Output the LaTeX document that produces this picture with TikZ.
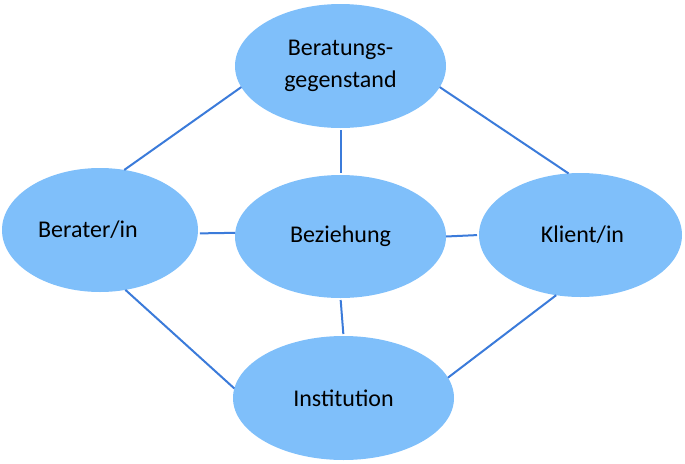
\documentclass[tikz,border=0pt]{standalone}
\usepackage{fontspec}
\setmainfont{Carlito}
\usetikzlibrary{shapes.geometric}
\definecolor{ellfill}{HTML}{7FBFFA}
\definecolor{linkcol}{HTML}{3B7BDA}
\tikzset{
  ell/.style={ellipse, fill=ellfill, draw=none, inner sep=0pt, outer sep=0pt,
    font=\fontsize{24}{32}\selectfont, align=center, text=black},
  link/.style={draw=linkcol, line width=2pt}
}
\begin{document}
\begin{tikzpicture}[x=1pt,y=-1pt]
\useasboundingbox (0,0) rectangle (685,463);
\node[ell, minimum width=211pt, minimum height=124pt] (T) at (340.5,66) {Beratungs-\\gegenstand};
\node[ell, minimum width=196pt, minimum height=124pt] (L) at (100,230) {Berater/in\hspace*{24pt}};
\node[ell, minimum width=211pt, minimum height=123pt] (C) at (340.5,236.5) {Beziehung};
\node[ell, minimum width=203pt, minimum height=124pt] (R) at (580.5,235) {\hspace*{4pt}Klient/in};
\node[ell, minimum width=221pt, minimum height=124pt] (B) at (343.5,398) {Institution};
\draw[link] (T.192.6) -- (L.68.7);
\draw[link] (T.-12.7) -- (R.101.8);
\draw[link, shorten <=2pt, shorten >=2pt] (T.south) -- (C.north);
\draw[link, shorten <=2pt] (L.-2) -- (C.178);
\draw[link, shorten >=2pt] (C.east) -- (R.west);
\draw[link] (R.248.6) -- (B.11.6);
\draw[link] (L.-67) -- (B.175.3);
\draw[link, shorten <=2pt, shorten >=2pt] (C.south) -- (B.north);
\end{tikzpicture}
\end{document}
